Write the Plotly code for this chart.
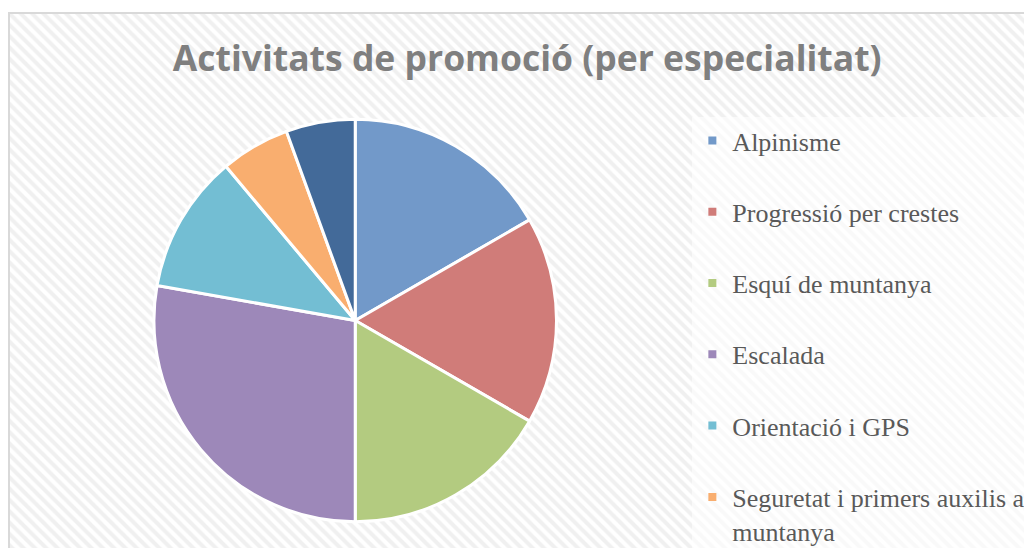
import plotly.graph_objects as go

# ---- data ----
categories = [
    "Alpinisme",
    "Progressió per crestes",
    "Esquí de muntanya",
    "Escalada",
    "Orientació i GPS",
    "Seguretat i primers auxilis a<br>muntanya",
    "Altres",
]
values = [3, 3, 3, 5, 2, 1, 1]
colors = ["#7299c9", "#d07c79", "#b3cb80", "#9d88b9", "#73bed3", "#f9ae6f", "#436a99"]
legend_visible = [True, True, True, True, True, True, False]
title_text = "Activitats de promoció (per especialitat)"

fig = go.Figure()

# hatched chart-area background
fig.add_trace(go.Scatter(
    x=[0, 1, 1, 0, 0], y=[0, 0, 1, 1, 0],
    fill="toself", mode="lines", line=dict(width=0),
    fillcolor="white",
    fillpattern=dict(shape="\\", size=8, solidity=0.5, fgcolor="#e2e2e2", bgcolor="white"),
    hoverinfo="skip", showlegend=False,
))

# pie
fig.add_trace(go.Pie(
    labels=categories, values=values, sort=False, direction="clockwise", rotation=0,
    marker=dict(colors=colors, line=dict(color="white", width=3)),
    textinfo="none", showlegend=False,
    domain=dict(x=[0.1417, 0.5352], y=[0.0486, 0.8019]),
))

# legend entries
for name, c, vis in zip(categories, colors, legend_visible):
    fig.add_trace(go.Scatter(
        x=[None], y=[None], mode="markers", name=name, legendgroup=name,
        marker=dict(symbol="square", size=8, color=c),
        showlegend=vis,
    ))

fig.update_layout(
    width=1024, height=540,
    margin=dict(l=1, r=0, t=5, b=0, autoexpand=False),
    paper_bgcolor="white", plot_bgcolor="white",
    xaxis=dict(range=[0, 1], visible=False, fixedrange=True),
    yaxis=dict(range=[0, 1], visible=False, fixedrange=True),
    title=dict(text=f"<b>{title_text}</b>", x=0.507, xanchor="center", y=0.9065, yanchor="middle",
               font=dict(family="Open Sans", size=35.5, color="#7f7f7f")),
    legend=dict(x=0.668, xanchor="left", y=0.8056, yanchor="top",
                bgcolor="rgba(255,255,255,0.6)", borderwidth=0,
                font=dict(family="Liberation Serif", size=26, color="#595959"),
                tracegroupgap=34.5, valign="top", itemclick=False),
    shapes=[dict(type="rect", xref="paper", yref="paper", x0=0, x1=1.02, y0=-0.02, y1=1.0,
                 line=dict(color="#d9d9d9", width=2), layer="above")],
)

fig.write_html("out.html")
